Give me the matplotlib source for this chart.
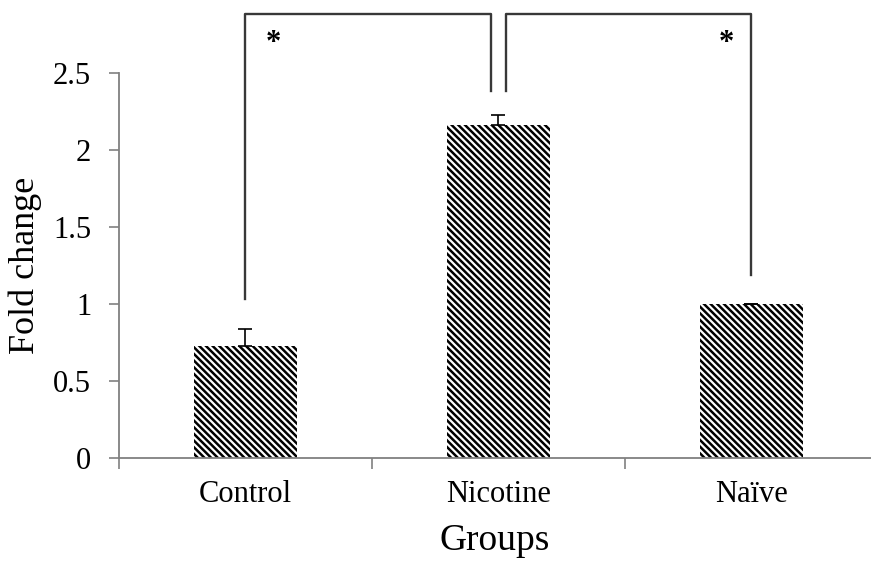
import numpy as np
import matplotlib
matplotlib.use("Agg")
import matplotlib.pyplot as plt

groups = ["Control", "Nicotine", "Naïve"]
fold_change = [0.73, 2.16, 1.0]
err_up = [0.11, 0.07, 0.0]
yticks = [0, 0.5, 1, 1.5, 2, 2.5]
ytick_labels = ["0", "0.5", "1", "1.5", "2", "2.5"]

# significance brackets, in data units
br_x = [[0, 0, 0.97, 0.97], [1.03, 1.03, 2.0, 2.0]]
br_y = [[1.03, 2.88, 2.88, 2.38], [2.38, 2.88, 2.88, 1.19]]
star_x = [0.11, 1.9]
star_y = [2.69, 2.69]

plt.rcParams['font.family'] = ['Liberation Serif', 'DejaVu Serif']
plt.rcParams['hatch.linewidth'] = 1.8

fig = plt.figure(figsize=(8.71, 5.61), dpi=100)
ax = fig.add_axes([0.1366, 0.1836, 0.8634, 0.6863])

x = np.arange(len(groups))
ax.bar(x, fold_change, width=0.41, color="white", edgecolor="black",
       linewidth=0, hatch="\\" * 5)
ax.errorbar(x, fold_change, yerr=[np.zeros(3), err_up], fmt="none",
            ecolor="black", elinewidth=1.2, capsize=5, capthick=1.2)

for bx, by in zip(br_x, br_y):
    ax.plot(bx, by, color="#383838", lw=1.7, clip_on=False)
for sx, sy in zip(star_x, star_y):
    ax.text(sx, sy, "*", ha="center", va="center", fontsize=22,
            fontweight="bold", clip_on=False)

ax.set_xlim(-0.5, (871 - 119) / 253 - 0.5)
ax.set_ylim(0, 2.5)
ax.set_yticks(yticks)
ax.set_yticklabels(ytick_labels)
ax.set_xticks([-0.5, 0.5, 1.5])
ax.set_xticks(x, minor=True)
ax.set_xticklabels([])
ax.set_xticklabels(groups, minor=True)
ax.tick_params(axis="x", which="minor", length=0, pad=16, labelsize=22)
ax.tick_params(axis="x", which="major", length=8, width=1.2, color="#808080")
ax.tick_params(axis="y", length=7, width=1.2, color="#808080", pad=13, labelsize=22)

for s in ["top", "right"]:
    ax.spines[s].set_visible(False)
for s in ["left", "bottom"]:
    ax.spines[s].set_color("#808080")
    ax.spines[s].set_linewidth(1.3)

ax.set_ylabel("Fold change", fontsize=26, labelpad=8)
ax.set_xlabel("Groups", fontsize=27, labelpad=10)

fig.savefig("out.png", dpi=100)
